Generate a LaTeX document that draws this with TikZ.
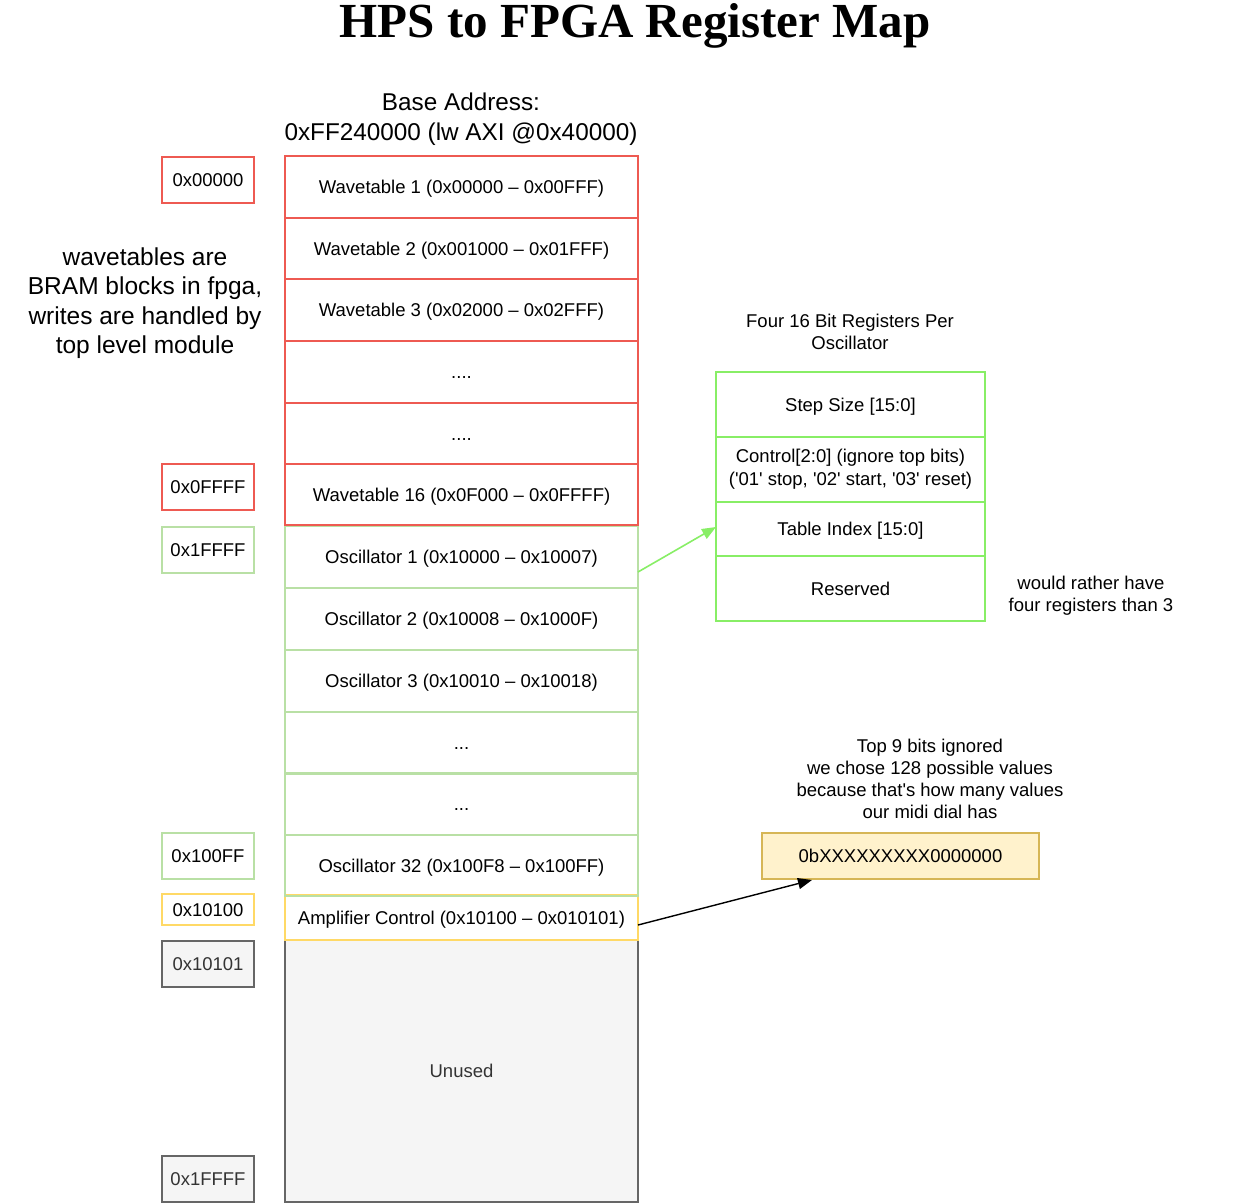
\documentclass[tikz,border=0pt]{standalone}
\usepackage{fontspec}
\setmainfont{Liberation Sans}
\newfontfamily\titlefont{Liberation Serif}
\usetikzlibrary{arrows.meta}
\definecolor{redS}{HTML}{EE5A52}
\definecolor{lgreen}{HTML}{B9E0A5}
\definecolor{bgreen}{HTML}{88EE66}
\definecolor{ylight}{HTML}{FFD966}
\definecolor{ydark}{HTML}{D6B656}
\definecolor{yfill}{HTML}{FFF2CC}
\definecolor{grayS}{HTML}{666666}
\definecolor{grayF}{HTML}{F5F5F5}
\definecolor{grayT}{HTML}{333333}
\newcommand{\sq}{\textquotesingle}
\begin{document}
\begin{tikzpicture}[x=1pt,y=-1pt,
  every node/.style={inner sep=0pt, outer sep=0pt, font=\fontsize{18.5}{23}\selectfont},
  cell/.style={draw=#1, line width=1.6pt, minimum width=353pt, anchor=north west, align=center, text height=15pt, text depth=2pt},
  lab/.style={draw=#1, line width=1.6pt, minimum width=92pt, anchor=north west, align=center, text height=15pt, text depth=2pt},
  reg/.style={draw=bgreen, line width=1.6pt, minimum width=269pt, anchor=north west, align=center},
  note/.style={align=center, font=\fontsize{18.5}{22}\selectfont}
]
\useasboundingbox (0,0) rectangle (1250,1202);
% title
\node[font=\titlefont\bfseries\fontsize{49}{55}\selectfont, anchor=base] (title) at (635,37.5) {HPS to FPGA Register Map};
\node[note, font=\fontsize{24.3}{30}\selectfont] (base) at (461,119) {Base Address:\\0xFF240000 (lw AXI @0x40000)};
% main column
\node[cell=grayS, fill=grayF, minimum height=262pt, text=grayT] (unused) at (285,940) {Unused};
\node[cell=ylight, minimum height=45pt] (amp) at (285,895) {Amplifier Control (0x10100 -- 0x010101)};
\node[cell=lgreen, minimum height=61pt] (o32) at (285,835) {Oscillator 32 (0x100F8 -- 0x100FF)};
\node[cell=lgreen, minimum height=62pt] (od2) at (285,773) {...};
\node[cell=lgreen, minimum height=62pt] (od1) at (285,712) {...};
\node[cell=lgreen, minimum height=62pt] (o3) at (285,650) {Oscillator 3 (0x10010 -- 0x10018)};
\node[cell=lgreen, minimum height=62pt] (o2) at (285,588) {Oscillator 2 (0x10008 -- 0x1000F)};
\node[cell=lgreen, minimum height=62pt] (o1) at (285,526) {Oscillator 1 (0x10000 -- 0x10007)};
\node[cell=redS, minimum height=61pt] (w16) at (285,464) {Wavetable 16 (0x0F000 -- 0x0FFFF)};
\node[cell=redS, minimum height=61pt] (wd2) at (285,403) {....};
\node[cell=redS, minimum height=62pt] (wd1) at (285,341) {....};
\node[cell=redS, minimum height=62pt] (w3) at (285,279) {Wavetable 3 (0x02000 -- 0x02FFF)};
\node[cell=redS, minimum height=61pt] (w2) at (285,218) {Wavetable 2 (0x001000 -- 0x01FFF)};
\node[cell=redS, minimum height=62pt] (w1) at (285,156) {Wavetable 1 (0x00000 -- 0x00FFF)};
% address labels
\node[lab=redS, minimum height=46pt] (a1) at (162,157) {0x00000};
\node[lab=redS, minimum height=46pt] (a2) at (162,464) {0x0FFFF};
\node[lab=lgreen, minimum height=46pt] (a3) at (162,527) {0x1FFFF};
\node[lab=lgreen, minimum height=46pt] (a4) at (162,833) {0x100FF};
\node[lab=ylight, minimum height=31pt] (a5) at (162,894) {0x10100};
\node[lab=grayS, fill=grayF, minimum height=46pt, text=grayT] (a6) at (162,941) {0x10101};
\node[lab=grayS, fill=grayF, minimum height=46pt, text=grayT] (a7) at (162,1156) {0x1FFFF};
% left note
\node[note, font=\fontsize{24.5}{29.5}\selectfont] (wnote) at (145,303) {wavetables are\\BRAM blocks in fpga,\\writes are handled by\\top level module};
% register box
\node[note] (rtitle) at (850,332) {Four 16 Bit Registers Per\\Oscillator};
\node[reg, minimum height=65pt, text height=15pt, text depth=2pt] (r1) at (716,372) {Step Size [15:0]};
\node[reg, minimum height=65pt, font=\fontsize{18.5}{23}\selectfont] (r2) at (716,437) {Control[2:0] (ignore top bits)\\(\sq01\sq{} stop, \sq02\sq{} start, \sq03\sq{} reset)};
\node[reg, minimum height=54pt, text height=15pt, text depth=2pt] (r3) at (716,502) {Table Index [15:0]};
\node[reg, minimum height=65pt, text height=15pt, text depth=2pt] (r4) at (716,556) {Reserved};
\node[note] (rnote) at (1091,596) {would rather have\\four registers than 3};
% amplifier note
\node[note] (anote) at (930,779) {Top 9 bits ignored\\we chose 128 possible values\\because that\sq{}s how many values\\our midi dial has};
\node[draw=ydark, fill=yfill, line width=1.6pt, minimum width=277pt, minimum height=46pt, anchor=north west, text height=15pt, text depth=2pt] (bits) at (762,833) {0bXXXXXXXXX0000000};
% arrows
\coordinate (s1) at (638,572);
\coordinate (e1) at (716,527);
\draw[bgreen, line width=1.6pt, -{Triangle[length=14pt,width=11pt]}] (s1) -- (e1);
\coordinate (s2) at (638,925);
\coordinate (e2) at (812,880);
\draw[black, line width=1.4pt, -{Triangle[length=14pt,width=11pt]}] (s2) -- (e2);
\end{tikzpicture}
\end{document}
